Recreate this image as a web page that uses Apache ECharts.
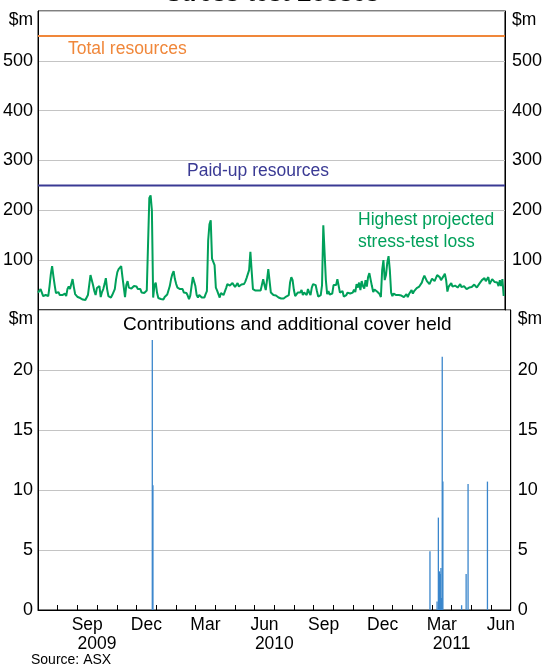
<!DOCTYPE html>
<html><head><meta charset="utf-8">
<script src="https://cdn.jsdelivr.net/npm/echarts@6/dist/echarts.min.js"></script>
<style>html,body{margin:0;padding:0;background:#fff}#c{width:545px;height:666px}</style>
</head><body><div id="c"></div>
<script>
// ---- data ----
const axisStart = '2009-07-01';
const axisEnd = '2011-07-01';
const months = ['Jul','Aug','Sep','Oct','Nov','Dec','Jan','Feb','Mar','Apr','May','Jun',
                'Jul','Aug','Sep','Oct','Nov','Dec','Jan','Feb','Mar','Apr','May','Jun'];
const shownMonths = ['Sep','Dec','Mar','Jun'];
const yearBoundaries = ['Jul09','Aug09','Sep09','Oct09','Nov09','Dec09','Jan10','Feb10','Mar10','Apr10','May10','Jun10',
  'Jul10','Aug10','Sep10','Oct10','Nov10','Dec10','Jan11','Feb11','Mar11','Apr11','May11','Jun11','Jul11'];
const yearLabels = {'Oct09':'2009','Jul10':'2010','Apr11':'2011'};
const totalResources = 550;
const paidUpResources = 250;
const lossStart = '2009-07-01';
const lossStepDays = 2;
const lossValues = [
 35,38,42,40,28,26,30,32,28,48,72,88,68,50,34,30,36,30,34,30,26,33,28,42,47,42,52,62,46,32,30,26,28,24,22,21,
 22,20,22,30,50,70,68,50,38,30,44,42,48,26,36,42,52,64,42,28,26,25,30,28,42,62,76,82,86,88,66,46,26,50,58,45,
 48,43,45,48,45,47,42,38,42,35,38,34,33,39,42,225,230,200,25,50,55,35,24,23,22,21,21,26,29,31,35,48,62,72,78,62,
 52,45,48,42,39,42,35,32,34,29,22,29,48,66,70,48,30,25,30,29,25,28,25,32,38,140,172,180,103,106,90,45,39,32,25,34,37,
 30,29,44,52,50,49,52,54,50,46,50,54,47,46,51,49,52,57,64,60,80,117,78,42,41,39,42,39,42,39,42,62,50,40,60,82,
 82,35,31,30,27,29,26,25,25,23,24,23,24,27,27,30,55,66,60,40,28,30,35,32,35,40,30,35,38,30,42,35,30,45,52,55,
 50,38,27,23,30,50,170,172,60,32,38,31,27,33,50,48,50,62,58,35,34,38,27,31,30,35,38,33,37,35,41,36,52,45,55,40,
 58,48,43,60,47,66,74,78,48,36,41,43,37,40,32,26,80,100,60,70,95,108,80,35,28,33,33,30,31,30,32,29,30,26,27,32,
 26,32,29,40,33,38,36,44,40,47,43,55,63,69,67,58,57,52,54,63,65,58,58,70,73,66,60,63,68,73,60,37,47,43,54,47,
 51,49,51,45,48,52,46,42,48,45,42,43,45,48,46,48,51,54,45,46,53,53,60,63,64,58,60,66,52,50,62,58,56,60,55,48,
 60,48,62,28
];
const contribDates = ['2009-12-24','2009-12-25','2011-02-27','2011-03-10','2011-03-12','2011-03-13','2011-03-14',
  '2011-03-15','2011-03-16','2011-03-17','2011-03-18','2011-03-19','2011-04-17','2011-04-24','2011-04-27','2011-05-27'];
const contribValues = [22.5,10.4,4.9,0.7,7.7,3.2,3.2,3.0,3.5,1.0,21.1,10.7,0.4,3.0,10.5,10.7];
const topAxis = {min:0, max:600, step:100};
const bottomAxis = {min:0, max:25, step:5};

// ---- build ----
const DAY = 86400000;
const t = s => Date.parse(s + 'T00:00:00Z');
const tMin = t(axisStart), tMax = t(axisEnd);
const lossData = lossValues.map((v,i)=>[t(lossStart)+i*lossStepDays*DAY, v]);
const barData = contribDates.map((d,i)=>[t(d), contribValues[i]]);

const FONT = 'Liberation Sans, Arial, sans-serif';
const txt = {fontFamily: FONT, fontSize: 17.5, color: '#000'};
const grey = '#c4c4c4';

function yAx(grid, pos, ax, hideMin){
  return {
    type:'value', gridIndex:grid, position:pos, min:ax.min, max:ax.max, interval:ax.step,
    axisLine:{show:true, lineStyle:{color:'#000', width:1}},
    axisTick:{show:false},
    splitLine:{show: pos==='left', lineStyle:{color:grey, width:1}},
    axisLabel:Object.assign({}, txt, {
      fontSize: 18,
      margin: pos==='left' ? 5 : 7, showMaxLabel:true, showMinLabel:true,
      formatter: v => v===ax.max ? '{u|$m}' : (hideMin && v===ax.min ? '' : String(v)),
      rich:{u:{fontFamily:FONT, fontSize:17.5, color:'#000', padding:[19,0,0,0]}}
    })
  };
}

const option = {
  animation:false,
  backgroundColor:'#fff',
  grid:[
    {left:38, right:33, top:11, height:299, show:true, borderColor:'#000', borderWidth:1},
    {left:38, right:33, top:310, height:300, show:true, borderColor:'#000', borderWidth:1}
  ],
  xAxis:[
    {type:'time', gridIndex:0, min:tMin, max:tMax, show:false},
    {type:'time', gridIndex:1, min:tMin, max:tMax, show:false},
    {type:'category', gridIndex:1, position:'bottom', data:months, boundaryGap:true,
     axisLine:{show:true, lineStyle:{color:'#000'}},
     axisTick:{show:true, inside:true, length:5, interval:0, lineStyle:{color:'#000'}},
     splitLine:{show:false},
     axisLabel:Object.assign({}, txt, {interval:0, margin:6,
       formatter: v => shownMonths.includes(v) ? v : ''})},
    {type:'category', gridIndex:1, position:'bottom', data:yearBoundaries, boundaryGap:false,
     axisLine:{show:false}, axisTick:{show:false}, splitLine:{show:false},
     axisLabel:Object.assign({}, txt, {interval:0, margin:25,
       formatter: v => yearLabels[v] || ''})}
  ],
  yAxis:[
    yAx(0,'left',topAxis,true), yAx(0,'right',topAxis,true),
    yAx(1,'left',bottomAxis,false), yAx(1,'right',bottomAxis,false)
  ],
  series:[
    {type:'line', xAxisIndex:0, yAxisIndex:0, data:[[tMin,totalResources],[tMax,totalResources]],
     showSymbol:false, lineStyle:{color:'#f0873a', width:2}, z:3},
    {type:'line', xAxisIndex:0, yAxisIndex:0, data:[[tMin,paidUpResources],[tMax,paidUpResources]],
     showSymbol:false, lineStyle:{color:'#3a3a94', width:2}, z:3},
    {type:'line', xAxisIndex:0, yAxisIndex:0, data:lossData, showSymbol:false,
     lineStyle:{color:'#00a05a', width:2}, z:4},
    {type:'bar', xAxisIndex:1, yAxisIndex:2, data:barData, barWidth:1.3,
     itemStyle:{color:'#3a86cc'}, z:4}
  ],
  graphic:[
    {type:'text', left:'center', top:-18, style:{text:'Stress-test Losses', fontFamily:FONT, fontSize:24, fontWeight:'bold', fill:'#000'}},
    {type:'text', left:68, top:40, style:{text:'Total resources', fontFamily:FONT, fontSize:17.5, fill:'#f0873a'}},
    {type:'text', left:187, top:162, style:{text:'Paid-up resources', fontFamily:FONT, fontSize:17.5, fill:'#3a3a94'}},
    {type:'text', left:358, top:209, style:{text:'Highest projected\nstress-test loss', fontFamily:FONT, fontSize:17.5, lineHeight:22, fill:'#00a05a', align:'center'}},
    {type:'text', left:123, top:315, style:{text:'Contributions and additional cover held', fontFamily:FONT, fontSize:19, fill:'#000'}},
    {type:'text', left:31, top:653, style:{text:'Source: ASX', fontFamily:FONT, fontSize:14, fill:'#000'}}
  ]
};
const chart = echarts.init(document.getElementById('c'), null, {renderer:'canvas'});
chart.setOption(option);
</script></body></html>
